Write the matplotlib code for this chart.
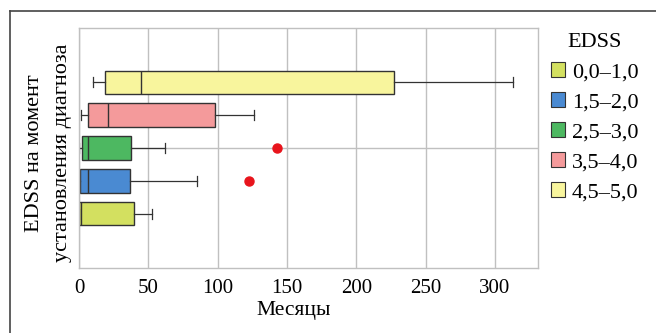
import matplotlib
matplotlib.use("Agg")
import matplotlib.pyplot as plt
from matplotlib.patches import Patch
from matplotlib.lines import Line2D

categories = ["0,0–1,0", "1,5–2,0", "2,5–3,0", "3,5–4,0", "4,5–5,0"]
colors = ["#d3e060", "#4a8ad2", "#4db861", "#f49a9b", "#f8f59d"]
whislo = [0.0, 0.0, 0.2, 1.2, 10.0]
q1 = [0.2, 0.7, 2.0, 6.7, 19.0]
med = [1.7, 6.7, 6.7, 21.0, 45.0]
q3 = [40.0, 37.0, 37.3, 98.0, 227.0]
whishi = [52.7, 85.0, 61.8, 126.0, 313.0]
fliers = [[], [122.6], [142.6], [], []]
xticks = [0, 50, 100, 150, 200, 250, 300]

plt.rcParams['font.family'] = ['Liberation Serif', 'DejaVu Serif']

fig = plt.figure(figsize=(6.56, 3.33), dpi=100)
ax = fig.add_axes([79/656, 65/333, (538-79)/656, (268-28)/333])

stats = []
for i in range(len(categories)):
    stats.append(dict(whislo=whislo[i], q1=q1[i], med=med[i], q3=q3[i],
                      whishi=whishi[i], fliers=fliers[i]))

edge = "#333333"
bp = ax.bxp(stats, positions=list(range(1, 6)), vert=False, widths=0.7,
            patch_artist=True, capwidths=0.32,
            boxprops=dict(edgecolor=edge, linewidth=1.0),
            medianprops=dict(color=edge, linewidth=1.0),
            whiskerprops=dict(color=edge, linewidth=0.9),
            capprops=dict(color=edge, linewidth=0.9),
            flierprops=dict(marker='o', markerfacecolor='#e8141c', markeredgecolor='#e8141c',
                            markersize=6.5, linestyle='none'))
for patch, c in zip(bp['boxes'], colors):
    patch.set_facecolor(c)

ax.set_xlim(0, 331)
ax.set_ylim(-0.64, 6.64)
ax.set_xticks(xticks)
ax.set_xticklabels([str(t) for t in xticks], fontsize=15)
ax.set_yticks([3])
ax.set_yticklabels([])
ax.tick_params(axis='both', length=0, pad=8)
ax.grid(True, color="#c0c0c0", linewidth=1.0)
ax.set_axisbelow(True)
for s in ax.spines.values():
    s.set_color("#c0c0c0")
    s.set_linewidth(1.0)

fig.text(294/656, 1 - 310/333, "Месяцы", fontsize=15.5, ha='center', va='center')
fig.text(35/656, 1 - 153/333, "EDSS на момент", rotation=90, fontsize=16,
         ha='center', va='center')
fig.text(62/656, 1 - 153/333, "установления диагноза", rotation=90, fontsize=16,
         ha='center', va='center')

handles = [Patch(facecolor=c, edgecolor=edge, linewidth=0.8) for c in colors]
leg = fig.legend(handles, categories, title="EDSS", loc='upper left',
                 bbox_to_anchor=(551/656, 1 - 33/333), frameon=False,
                 fontsize=16, title_fontsize=16, handlelength=0.63, handleheight=0.63,
                 handletextpad=0.3, labelspacing=0.45, borderaxespad=0, borderpad=0)

# outer frame (left and top lines)
fig.add_artist(Line2D([10/656, 10/656], [0, 1 - 11/333], color="#444444", linewidth=1.2,
                      transform=fig.transFigure))
fig.add_artist(Line2D([10/656, 1], [1 - 11/333, 1 - 11/333], color="#444444", linewidth=1.2,
                      transform=fig.transFigure))

fig.savefig("out.png", dpi=100)
